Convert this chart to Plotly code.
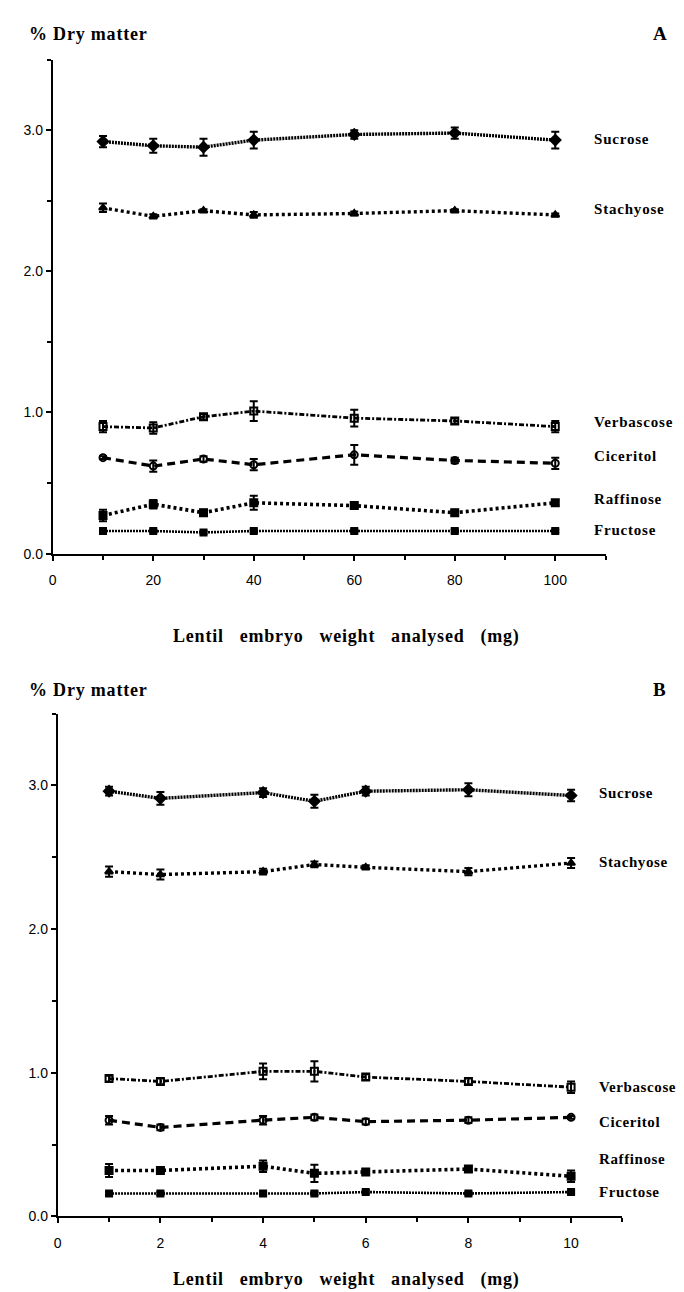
import plotly.graph_objects as go

# ---------------- data ----------------
series_names = ["Sucrose", "Stachyose", "Verbascose", "Ciceritol", "Raffinose", "Fructose"]

xA = [10, 20, 30, 40, 60, 80, 100]
A_sucrose = [2.92, 2.89, 2.88, 2.93, 2.97, 2.98, 2.93]
A_sucrose_err = [0.04, 0.05, 0.06, 0.06, 0.03, 0.04, 0.06]
A_stachyose = [2.45, 2.39, 2.43, 2.40, 2.41, 2.43, 2.40]
A_stachyose_err = [0.03, 0.015, 0.01, 0.02, 0.015, 0.01, 0.01]
A_verbascose = [0.90, 0.89, 0.97, 1.01, 0.96, 0.94, 0.90]
A_verbascose_err = [0.04, 0.04, 0.02, 0.07, 0.06, 0.02, 0.04]
A_ciceritol = [0.68, 0.62, 0.67, 0.63, 0.70, 0.66, 0.64]
A_ciceritol_err = [0.01, 0.04, 0.02, 0.04, 0.07, 0.02, 0.04]
A_raffinose = [0.27, 0.35, 0.29, 0.36, 0.34, 0.29, 0.36]
A_raffinose_err = [0.04, 0.03, 0.02, 0.05, 0.02, 0.02, 0.02]
A_fructose = [0.16, 0.16, 0.15, 0.16, 0.16, 0.16, 0.16]
A_fructose_err = [0.01, 0.01, 0.01, 0.01, 0.01, 0.01, 0.01]
A_label_y = [2.94, 2.44, 0.93, 0.69, 0.39, 0.17]

xB = [1, 2, 4, 5, 6, 8, 10]
B_sucrose = [2.96, 2.91, 2.95, 2.89, 2.96, 2.97, 2.93]
B_sucrose_err = [0.03, 0.045, 0.03, 0.045, 0.03, 0.045, 0.04]
B_stachyose = [2.40, 2.38, 2.40, 2.45, 2.43, 2.40, 2.46]
B_stachyose_err = [0.035, 0.035, 0.02, 0.02, 0.015, 0.025, 0.035]
B_verbascose = [0.96, 0.94, 1.01, 1.01, 0.97, 0.94, 0.90]
B_verbascose_err = [0.02, 0.02, 0.055, 0.07, 0.02, 0.02, 0.04]
B_ciceritol = [0.67, 0.62, 0.67, 0.69, 0.66, 0.67, 0.69]
B_ciceritol_err = [0.03, 0.02, 0.03, 0.02, 0.02, 0.02, 0.01]
B_raffinose = [0.32, 0.32, 0.35, 0.30, 0.31, 0.33, 0.28]
B_raffinose_err = [0.045, 0.02, 0.04, 0.06, 0.02, 0.02, 0.04]
B_fructose = [0.16, 0.16, 0.16, 0.16, 0.17, 0.16, 0.17]
B_fructose_err = [0.01, 0.01, 0.01, 0.01, 0.01, 0.01, 0.01]
B_label_y = [2.95, 2.47, 0.90, 0.66, 0.40, 0.17]

xA_ticks = [0, 20, 40, 60, 80, 100]
xB_ticks = [0, 2, 4, 6, 8, 10]
y_ticks = [0, 1, 2, 3]
y_ticklabels = ["0.0", "1.0", "2.0", "3.0"]

# ---------------- styles ----------------
styles = {
    "Sucrose":    dict(symbol="diamond", dash="2px,1px", width=3.4, size=8),
    "Stachyose":  dict(symbol="triangle-up", dash="3px,3px", width=3.4, size=7),
    "Verbascose": dict(symbol="square-open", dash="5px,2px,2px,2px", width=2.8, size=7),
    "Ciceritol":  dict(symbol="circle-open", dash="8px,5px", width=3.2, size=7),
    "Raffinose":  dict(symbol="square", dash="3px,3px", width=3.6, size=7),
    "Fructose":   dict(symbol="square-dot", dash="2px,1px", width=2.6, size=6),
}

fig = go.Figure()

def add_panel(x, ys, errs, xaxis, yaxis):
    for name, y, e in zip(series_names, ys, errs):
        st = styles[name]
        fig.add_trace(go.Scatter(
            x=x, y=y, name=name, mode="lines+markers",
            xaxis=xaxis, yaxis=yaxis, showlegend=False,
            line=dict(color="black", width=st["width"], dash=st["dash"]),
            marker=dict(symbol=st["symbol"], size=st["size"], color="black",
                        line=dict(color="black", width=2)),
            error_y=dict(type="data", array=e, visible=True, color="black",
                         thickness=2, width=4),
        ))

add_panel(xA, [A_sucrose, A_stachyose, A_verbascose, A_ciceritol, A_raffinose, A_fructose],
          [A_sucrose_err, A_stachyose_err, A_verbascose_err, A_ciceritol_err, A_raffinose_err, A_fructose_err],
          "x", "y")
add_panel(xB, [B_sucrose, B_stachyose, B_verbascose, B_ciceritol, B_raffinose, B_fructose],
          [B_sucrose_err, B_stachyose_err, B_verbascose_err, B_ciceritol_err, B_raffinose_err, B_fructose_err],
          "x2", "y2")

W, H = 684, 1292
tickfont = dict(family="Liberation Sans, Arial, sans-serif", size=14, color="black")
serif_b = "Liberation Serif, Times New Roman, serif"

common_x = dict(showline=True, linecolor="black", linewidth=2, ticks="outside",
                ticklen=5, tickwidth=1.5, tickcolor="black", showgrid=False,
                zeroline=False, tickfont=tickfont, ticklabelstandoff=8,
                minor=dict(ticks="outside", ticklen=4, tickwidth=1.5, tickcolor="black"))
common_y = dict(showline=True, linecolor="black", linewidth=2, ticks="outside",
                ticklen=5, tickwidth=1.5, tickcolor="black", showgrid=False,
                zeroline=False, tickfont=tickfont, range=[0, 3.5],
                tickvals=y_ticks, ticktext=y_ticklabels,
                minor=dict(ticks="outside", ticklen=4, tickwidth=1.5, tickcolor="black", dtick=0.5))

fig.update_layout(
    width=W, height=H, margin=dict(l=0, r=0, t=0, b=0),
    paper_bgcolor="white", plot_bgcolor="white",
    xaxis=dict(domain=[41 / W, 597 / W], range=[0, 110], tickvals=xA_ticks,
               anchor="y", **common_x),
    yaxis=dict(domain=[1 - 549 / H, 1 - 52 / H], anchor="x", **common_y),
    xaxis2=dict(domain=[46 / W, 614 / W], range=[0, 11], tickvals=xB_ticks,
                anchor="y2", **common_x),
    yaxis2=dict(domain=[1 - 1216 / H, 1 - 710 / H], anchor="x2", **common_y),
)
fig.layout.xaxis.minor.dtick = 10
fig.layout.xaxis2.minor.dtick = 1

ann = []
def label(text, x, y, xref="paper", yref="paper", size=15, xanchor="left", spacing=1):
    ann.append(dict(text='<span style="letter-spacing:%spx"><b>%s</b></span>' % (spacing, text),
                    x=x, y=y, xref=xref, yref=yref,
                    showarrow=False, xanchor=xanchor, yanchor="middle",
                    font=dict(family=serif_b, size=size, color="black")))

label("% Dry matter", 15 / W, 1 - 26 / H, size=18, spacing=0.8)
label("A", 652 / W, 1 - 26 / H, size=19, xanchor="center")
label("Lentil&nbsp;&nbsp; embryo&nbsp;&nbsp; weight&nbsp;&nbsp; analysed&nbsp;&nbsp; (mg)", 336 / W, 1 - 632 / H,
      size=18, xanchor="center", spacing=0.8)
label("% Dry matter", 15 / W, 1 - 686 / H, size=18, spacing=0.8)
label("B", 652 / W, 1 - 686 / H, size=19, xanchor="center")
label("Lentil&nbsp;&nbsp; embryo&nbsp;&nbsp; weight&nbsp;&nbsp; analysed&nbsp;&nbsp; (mg)", 336 / W, 1 - 1279 / H,
      size=18, xanchor="center", spacing=0.8)

for name, yv in zip(series_names, A_label_y):
    label(name, 583 / W, yv, yref="y", size=15, spacing=0.8)
for name, yv in zip(series_names, B_label_y):
    label(name, 588 / W, yv, yref="y2", size=15, spacing=0.6)

fig.update_layout(annotations=ann)
fig.write_html("out.html")
